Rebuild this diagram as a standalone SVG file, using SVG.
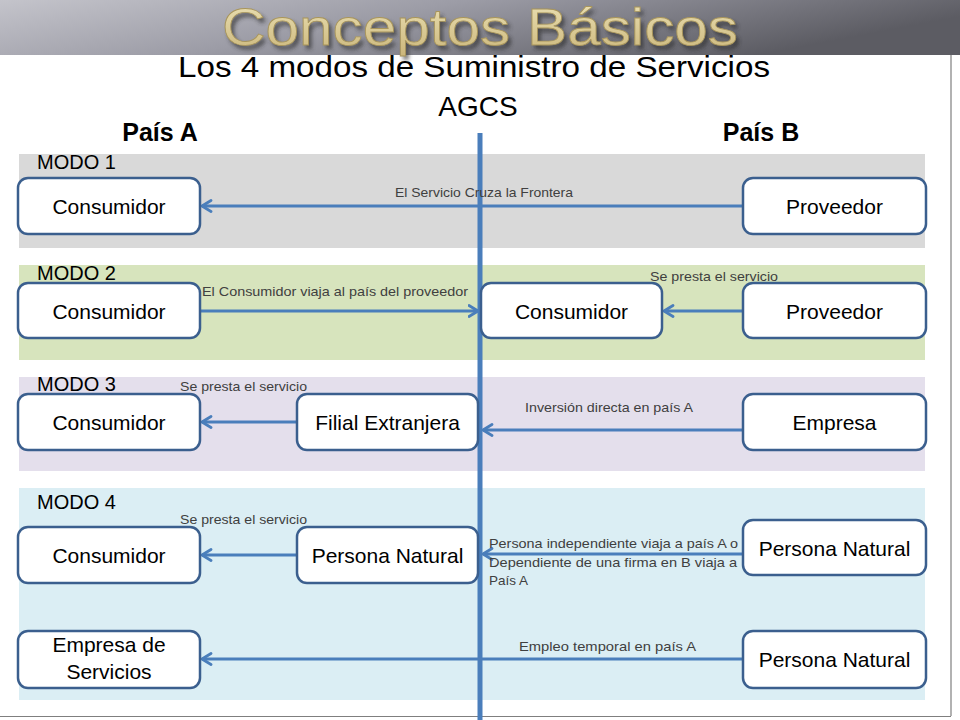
<svg xmlns="http://www.w3.org/2000/svg" width="960" height="720" viewBox="0 0 960 720">
<defs>
<linearGradient id="hdr" x1="0" y1="0" x2="1" y2="0.3">
<stop offset="0" stop-color="#c4c4cb"/>
<stop offset="0.45" stop-color="#9c9ca6"/>
<stop offset="1" stop-color="#5c5c63"/>
</linearGradient>
<linearGradient id="gold" x1="0" y1="0" x2="0" y2="1">
<stop offset="0" stop-color="#ece2b6"/>
<stop offset="1" stop-color="#cbb67a"/>
</linearGradient>
<filter id="blur" x="-5%" y="-20%" width="110%" height="140%"><feGaussianBlur stdDeviation="2"/></filter>
<marker id="arr" viewBox="0 0 12 14" refX="10.5" refY="7" markerWidth="12" markerHeight="14" markerUnits="userSpaceOnUse" orient="auto">
<path d="M1.5,1.5 L10.5,7 L1.5,12.5" fill="none" stroke="#4a7ebb" stroke-width="2.8" stroke-linecap="round" stroke-linejoin="round"/>
</marker>
<style>
.box{fill:#fff;stroke:#3b5f8e;stroke-width:2.5}
.nt{font-family:"Liberation Sans",Arial,sans-serif;font-size:21px;fill:#000;text-anchor:middle}
.lb{font-family:"Liberation Sans",Arial,sans-serif;font-size:13px;fill:#404040}
.modo{font-family:"Liberation Sans",Arial,sans-serif;font-size:20px;fill:#000}
.cn{fill:none;stroke:#4a7ebb;stroke-width:3;marker-end:url(#arr)}
</style>
</defs>
<rect width="960" height="720" fill="#fff"/>
<text x="474" y="77" font-family="Liberation Sans,Arial,sans-serif" font-size="30" text-anchor="middle" textLength="592" lengthAdjust="spacingAndGlyphs" fill="#000">Los 4 modos de Suministro de Servicios</text>
<rect x="0" y="0" width="960" height="55" fill="url(#hdr)"/>
<text x="483" y="49" font-family="Liberation Sans,Arial,sans-serif" font-size="52" text-anchor="middle" textLength="516" lengthAdjust="spacingAndGlyphs" fill="#2a2a2a" opacity="0.7" filter="url(#blur)">Conceptos Básicos</text>
<text x="480" y="45" font-family="Liberation Sans,Arial,sans-serif" font-size="52" text-anchor="middle" textLength="516" lengthAdjust="spacingAndGlyphs" fill="url(#gold)" stroke="#a8955c" stroke-width="0.8">Conceptos Básicos</text>
<text x="478" y="116" font-family="Liberation Sans,Arial,sans-serif" font-size="28" text-anchor="middle" fill="#000">AGCS</text>
<text x="160" y="141" font-family="Liberation Sans,Arial,sans-serif" font-size="25" font-weight="bold" text-anchor="middle" fill="#000">País A</text>
<text x="761" y="141" font-family="Liberation Sans,Arial,sans-serif" font-size="25" font-weight="bold" text-anchor="middle" fill="#000">País B</text>
<g id="bands">
<rect x="19" y="154" width="906" height="94" fill="#d9d9d9"/>
<rect x="19" y="265" width="906" height="95" fill="#d7e4bd"/>
<rect x="19" y="377" width="906" height="94" fill="#e4dfec"/>
<rect x="19" y="488" width="906" height="212" fill="#dbeef4"/>
<text class="modo" x="37" y="169">MODO 1</text>
<text class="modo" x="37" y="280">MODO 2</text>
<text class="modo" x="37" y="391">MODO 3</text>
<text class="modo" x="37" y="509">MODO 4</text>
</g>
<g id="frame" stroke="#7f7f7f" stroke-width="1.2" fill="none">
<line x1="951" y1="55" x2="951" y2="716"/>
<line x1="0" y1="716.5" x2="951" y2="716.5"/>
</g>
<g id="connectors">
<path class="cn" d="M743,206 H202"/>
<path class="cn" d="M200,311 H478"/>
<path class="cn" d="M743,311 H664"/>
<path class="cn" d="M297,422 H202"/>
<path class="cn" d="M743,430 H483"/>
<path class="cn" d="M297,555 H202"/>
<path class="cn" d="M743,554 H483"/>
<path class="cn" d="M743,659 H202"/>
<line x1="480" y1="133" x2="480" y2="720" stroke="#4a7ebb" stroke-width="5"/>
<text class="lb" x="395" y="197" textLength="178" lengthAdjust="spacingAndGlyphs">El Servicio Cruza la Frontera</text>
<text class="lb" x="202" y="296" textLength="266" lengthAdjust="spacingAndGlyphs">El Consumidor viaja al país del proveedor</text>
<text class="lb" x="650" y="281" textLength="128" lengthAdjust="spacingAndGlyphs">Se presta el servicio</text>
<text class="lb" x="180" y="391" textLength="127" lengthAdjust="spacingAndGlyphs">Se presta el servicio</text>
<text class="lb" x="525" y="412" textLength="168" lengthAdjust="spacingAndGlyphs">Inversión directa en país A</text>
<text class="lb" x="180" y="524" textLength="127" lengthAdjust="spacingAndGlyphs">Se presta el servicio</text>
<text class="lb" x="489" y="548" textLength="249" lengthAdjust="spacingAndGlyphs">Persona independiente viaja a país A o</text>
<text class="lb" x="489" y="567" textLength="248" lengthAdjust="spacingAndGlyphs">Dependiente de una firma en B viaja a</text>
<text class="lb" x="489" y="585" textLength="39" lengthAdjust="spacingAndGlyphs">País A</text>
<text class="lb" x="519" y="651" textLength="177" lengthAdjust="spacingAndGlyphs">Empleo temporal en país  A</text>
</g>
<g id="m1-consumidor"><rect class="box" x="18" y="178" width="182" height="56" rx="10"/><text class="nt" x="109" y="214">Consumidor</text></g>
<g id="m1-proveedor"><rect class="box" x="743" y="178" width="183" height="56" rx="10"/><text class="nt" x="834.5" y="214">Proveedor</text></g>
<g id="m2-consumidor-a"><rect class="box" x="18" y="283" width="182" height="55" rx="10"/><text class="nt" x="109" y="318.5">Consumidor</text></g>
<g id="m2-consumidor-b"><rect class="box" x="481" y="283" width="181" height="55" rx="10"/><text class="nt" x="571.5" y="318.5">Consumidor</text></g>
<g id="m2-proveedor"><rect class="box" x="743" y="283" width="183" height="55" rx="10"/><text class="nt" x="834.5" y="318.5">Proveedor</text></g>
<g id="m3-consumidor"><rect class="box" x="18" y="394" width="182" height="56" rx="10"/><text class="nt" x="109" y="430">Consumidor</text></g>
<g id="m3-filial"><rect class="box" x="297" y="394" width="181" height="56" rx="10"/><text class="nt" x="387.5" y="430">Filial Extranjera</text></g>
<g id="m3-empresa"><rect class="box" x="743" y="394" width="183" height="56" rx="10"/><text class="nt" x="834.5" y="430">Empresa</text></g>
<g id="m4-consumidor"><rect class="box" x="18" y="527" width="182" height="56" rx="10"/><text class="nt" x="109" y="563">Consumidor</text></g>
<g id="m4-persona-a"><rect class="box" x="297" y="527" width="181" height="56" rx="10"/><text class="nt" x="387.5" y="563">Persona Natural</text></g>
<g id="m4-persona-b"><rect class="box" x="743" y="520" width="183" height="55" rx="10"/><text class="nt" x="834.5" y="555.5">Persona Natural</text></g>
<g id="m4-empresa-servicios"><rect class="box" x="18" y="631" width="182" height="57" rx="10"/><text class="nt" x="109" y="652">Empresa de</text><text class="nt" x="109" y="679">Servicios</text></g>
<g id="m4-persona-c"><rect class="box" x="743" y="631" width="183" height="57" rx="10"/><text class="nt" x="834.5" y="667">Persona Natural</text></g>
</svg>
